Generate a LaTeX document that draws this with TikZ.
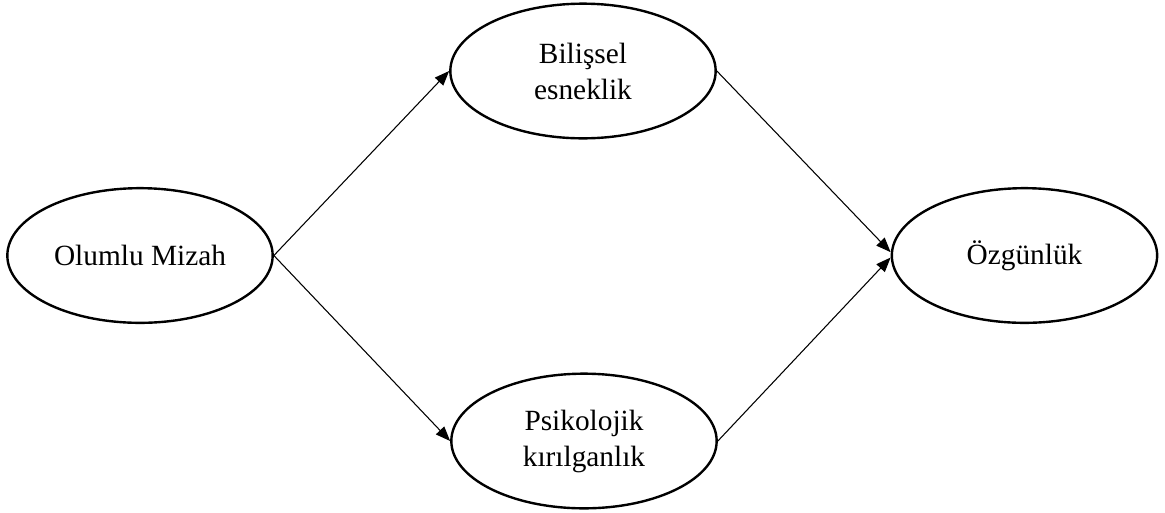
\documentclass[tikz,border=0pt]{standalone}
\usepackage{fontspec}
\setmainfont{Liberation Serif}
\usetikzlibrary{shapes.geometric,arrows.meta}
\tikzset{
  oval/.style={ellipse, draw, line width=1.8pt, minimum width=199pt,
    minimum height=101pt, inner sep=0pt, align=center,
    font=\fontsize{22}{27}\selectfont},
  link/.style={line width=0.8pt, -{Triangle[length=11pt,width=8.5pt]}}
}
\begin{document}
\begin{tikzpicture}[x=0.75pt,y=-0.75pt]
  \useasboundingbox (0,0) rectangle (1165,512);
  \node[oval] (mizah) at (140,255.5) {Olumlu Mizah};
  \node[oval] (esnek) at (583,71) {Bilişsel\\esneklik};
  \node[oval] (kiril) at (584,441) {Psikolojik\\kırılganlık};
  \node[oval] (ozgun) at (1024.5,255.5) {Özgünlük};
  \draw[link] (mizah.east) -- (esnek.west);
  \draw[link] (mizah.east) -- (kiril.west);
  \draw[link] (esnek.east) -- ([yshift=2.5pt]ozgun.west);
  \draw[link] (kiril.east) -- ([yshift=-1.5pt]ozgun.west);
\end{tikzpicture}
\end{document}
